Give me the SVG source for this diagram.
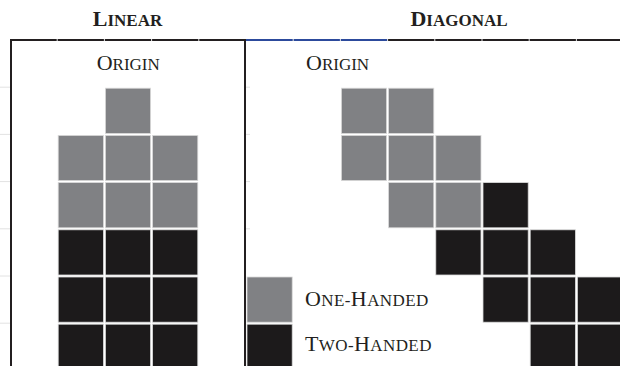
<svg xmlns="http://www.w3.org/2000/svg" width="620" height="366" viewBox="0 0 620 366">
<style>
.g{fill:#808184;stroke:#d9d9d9;stroke-width:0.8}
.k{fill:#1c1a1b;stroke:#d9d9d9;stroke-width:0.8}
.t{font-family:"Liberation Serif","Times New Roman",serif;fill:#231f20;font-size:22px}
.h{font-weight:bold}
.sc{font-size:17px}
.lg{letter-spacing:0.4px}
.ln{stroke:#231f20;stroke-width:2;fill:none}
.tick{stroke:#e2e2e2;stroke-width:1}
</style>
<rect width="620" height="366" fill="#fff"/>
<g id="frame">
<line class="ln" x1="10" y1="40" x2="620" y2="40"/>
<line x1="246" y1="40" x2="388" y2="40" stroke="#2c4a9c" stroke-width="2"/>
<line class="ln" x1="11" y1="39" x2="11" y2="366"/>
<line class="ln" x1="245" y1="39" x2="245" y2="366"/>
<g class="tick">
<line x1="57.2" y1="39" x2="57.2" y2="41"/><line x1="104.4" y1="39" x2="104.4" y2="41"/><line x1="151.6" y1="39" x2="151.6" y2="41"/><line x1="198.8" y1="39" x2="198.8" y2="41"/><line x1="293.2" y1="39" x2="293.2" y2="41"/><line x1="340.4" y1="39" x2="340.4" y2="41"/><line x1="387.6" y1="39" x2="387.6" y2="41"/><line x1="434.8" y1="39" x2="434.8" y2="41"/><line x1="482" y1="39" x2="482" y2="41"/><line x1="529.2" y1="39" x2="529.2" y2="41"/><line x1="576.4" y1="39" x2="576.4" y2="41"/>
<line x1="0" y1="87.2" x2="10" y2="87.2"/><line x1="0" y1="134.4" x2="10" y2="134.4"/><line x1="0" y1="181.6" x2="10" y2="181.6"/><line x1="0" y1="228.8" x2="10" y2="228.8"/><line x1="0" y1="276" x2="10" y2="276"/><line x1="0" y1="323.2" x2="10" y2="323.2"/>
<line x1="246" y1="87.2" x2="250" y2="87.2"/><line x1="246" y1="134.4" x2="250" y2="134.4"/><line x1="246" y1="181.6" x2="250" y2="181.6"/><line x1="246" y1="228.8" x2="250" y2="228.8"/>
</g>
</g>
<g id="headers">
<text class="t h" x="127.5" y="26" text-anchor="middle">L<tspan class="sc">INEAR</tspan></text>
<text class="t h" x="459" y="26" text-anchor="middle">D<tspan class="sc">IAGONAL</tspan></text>
</g>
<g id="linear">
<text class="t" x="96.7" y="70">O<tspan class="sc">RIGIN</tspan></text>
<rect class="g" x="105.4" y="88.2" width="45.2" height="45.2"/>
<rect class="g" x="58.2" y="135.4" width="45.2" height="45.2"/>
<rect class="g" x="105.4" y="135.4" width="45.2" height="45.2"/>
<rect class="g" x="152.6" y="135.4" width="45.2" height="45.2"/>
<rect class="g" x="58.2" y="182.6" width="45.2" height="45.2"/>
<rect class="g" x="105.4" y="182.6" width="45.2" height="45.2"/>
<rect class="g" x="152.6" y="182.6" width="45.2" height="45.2"/>
<rect class="k" x="58.2" y="229.8" width="45.2" height="45.2"/>
<rect class="k" x="105.4" y="229.8" width="45.2" height="45.2"/>
<rect class="k" x="152.6" y="229.8" width="45.2" height="45.2"/>
<rect class="k" x="58.2" y="277" width="45.2" height="45.2"/>
<rect class="k" x="105.4" y="277" width="45.2" height="45.2"/>
<rect class="k" x="152.6" y="277" width="45.2" height="45.2"/>
<rect class="k" x="58.2" y="324.2" width="45.2" height="45.2"/>
<rect class="k" x="105.4" y="324.2" width="45.2" height="45.2"/>
<rect class="k" x="152.6" y="324.2" width="45.2" height="45.2"/>
</g>
<g id="diagonal">
<text class="t" x="306" y="70">O<tspan class="sc">RIGIN</tspan></text>
<rect class="g" x="341.4" y="88.2" width="45.2" height="45.2"/>
<rect class="g" x="388.6" y="88.2" width="45.2" height="45.2"/>
<rect class="g" x="341.4" y="135.4" width="45.2" height="45.2"/>
<rect class="g" x="388.6" y="135.4" width="45.2" height="45.2"/>
<rect class="g" x="435.8" y="135.4" width="45.2" height="45.2"/>
<rect class="g" x="388.6" y="182.6" width="45.2" height="45.2"/>
<rect class="g" x="435.8" y="182.6" width="45.2" height="45.2"/>
<rect class="k" x="483" y="182.6" width="45.2" height="45.2"/>
<rect class="k" x="435.8" y="229.8" width="45.2" height="45.2"/>
<rect class="k" x="483" y="229.8" width="45.2" height="45.2"/>
<rect class="k" x="530.2" y="229.8" width="45.2" height="45.2"/>
<rect class="k" x="483" y="277" width="45.2" height="45.2"/>
<rect class="k" x="530.2" y="277" width="45.2" height="45.2"/>
<rect class="k" x="577.4" y="277" width="45.2" height="45.2"/>
<rect class="k" x="530.2" y="324.2" width="45.2" height="45.2"/>
<rect class="k" x="577.4" y="324.2" width="45.2" height="45.2"/>
</g>
<g id="legend-one-handed">
<rect class="g" x="247" y="277" width="45.2" height="45.2"/>
<text class="t lg" x="305" y="305.7">O<tspan class="sc">NE-</tspan>H<tspan class="sc">ANDED</tspan></text>
</g>
<g id="legend-two-handed">
<rect class="k" x="247" y="324.2" width="45.2" height="45.2"/>
<text class="t lg" x="305" y="350.7">T<tspan class="sc">WO-</tspan>H<tspan class="sc">ANDED</tspan></text>
</g>
</svg>
